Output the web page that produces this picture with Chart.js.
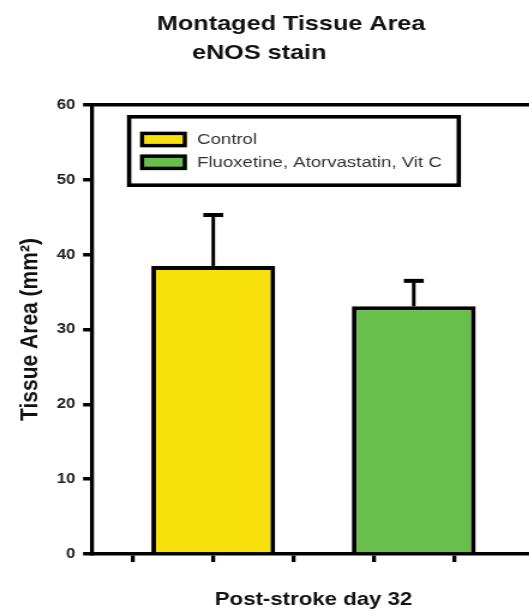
<!DOCTYPE html>
<html>
<head>
<meta charset="utf-8">
<script src="https://cdn.jsdelivr.net/npm/chart.js@4.4.1/dist/chart.umd.min.js"></script>
<style>
  html, body { margin: 0; padding: 0; background: #fff; overflow: hidden; width: 529px; height: 612px; }
  /* the figure is drawn on a narrower canvas and widened horizontally */
  #c { display: block; width: 552px !important; height: 612px !important; }
</style>
</head>
<body>
<canvas id="c" width="460" height="612" style="width:552px;height:612px"></canvas>
<script>
// ---- data ----
const titleLines = ['Montaged Tissue Area', 'eNOS stain'];
const groups = ['Post-stroke day 32'];
const seriesNames = ['Control', 'Fluoxetine, Atorvastatin, Vit C'];
const meanArea = [38.5, 33.1];   // mm^2
const errArea = [6.8, 3.4];      // upper error bar, mm^2
const yTicks = [0, 10, 20, 30, 40, 50, 60];
const xTickMarks = [0, 1, 2, 3, 4, 5];
const yTitle = 'Tissue Area (mm\u00B2)';

// ---- style ----
const FONT = '"Liberation Sans", Arial, Helvetica, sans-serif';
const seriesFill = ['#f7e00b', '#6abe4b'];

// Two-line heading above the plot
const headingPlugin = {
  id: 'heading',
  afterDraw(chart) {
    const ctx = chart.ctx;
    ctx.save();
    ctx.fillStyle = '#111';
    ctx.font = 'bold 21px ' + FONT;
    ctx.textAlign = 'left';
    ctx.textBaseline = 'alphabetic';
    ctx.fillText(titleLines[0], 130.8, 29.5);
    ctx.fillText(titleLines[1], 160, 58.5);
    ctx.restore();
  }
};

// Upper error bars with caps
const errorBarPlugin = {
  id: 'errorBars',
  afterDatasetsDraw(chart) {
    const ctx = chart.ctx;
    const yScale = chart.scales.y;
    ctx.save();
    ctx.strokeStyle = '#000';
    ctx.lineCap = 'butt';
    chart.data.datasets.forEach((ds, i) => {
      const meta = chart.getDatasetMeta(i);
      meta.data.forEach((bar, j) => {
        const yTop = yScale.getPixelForValue(ds.data[j] + ds.errors[j]);
        ctx.lineWidth = 3;
        ctx.beginPath();
        ctx.moveTo(bar.x, bar.y);
        ctx.lineTo(bar.x, yTop);
        ctx.stroke();
        ctx.lineWidth = 4;
        ctx.beginPath();
        ctx.moveTo(bar.x - 8.3, yTop);
        ctx.lineTo(bar.x + 8.3, yTop);
        ctx.stroke();
      });
    });
    ctx.restore();
  }
};

// Framed legend inside the plot area
const boxLegendPlugin = {
  id: 'boxLegend',
  afterDraw(chart) {
    const { ctx, chartArea } = chart;
    const left = chartArea.left + 29.1;
    const top = chartArea.top + 10;
    const swX = left + 10.9, swW = 39, swH = 15.6;
    const textX = left + 58.4;
    const firstRow = 24.5, rowH = 22.8, h = 72;
    ctx.save();
    ctx.font = '15.5px ' + FONT;
    const widths = chart.data.datasets.map(d => ctx.measureText(d.label).width);
    const w = textX - left + Math.max(...widths) + 16;
    ctx.fillStyle = '#fff';
    ctx.fillRect(left, top, w, h);
    ctx.strokeStyle = '#000';
    ctx.lineWidth = 3.6;
    ctx.strokeRect(left + 1.8, top + 1.8, w - 3.6, h - 3.6);
    chart.data.datasets.forEach((d, i) => {
      const cy = top + firstRow + i * rowH;
      ctx.fillStyle = d.backgroundColor;
      ctx.fillRect(swX, cy - swH / 2, swW, swH);
      ctx.lineWidth = 3.4;
      ctx.strokeRect(swX + 1.7, cy - swH / 2 + 1.7, swW - 3.4, swH - 3.4);
      ctx.fillStyle = '#333';
      ctx.textAlign = 'left';
      ctx.textBaseline = 'middle';
      ctx.fillText(d.label, textX, cy);
    });
    ctx.restore();
  }
};

new Chart(document.getElementById('c'), {
  type: 'bar',
  data: {
    labels: groups,
    datasets: seriesNames.map((name, i) => ({
      label: name,
      data: [meanArea[i]],
      errors: [errArea[i]],
      backgroundColor: seriesFill[i],
      borderColor: '#000',
      borderWidth: 4,
      borderSkipped: 'start',
      categoryPercentage: 0.9054,
      barPercentage: 0.618
    }))
  },
  options: {
    responsive: false,
    animation: false,
    layout: { padding: { top: 105, right: 14.2, bottom: 0, left: 0 } },
    plugins: {
      legend: { display: false },
      title: { display: false },
      tooltip: { enabled: false }
    },
    scales: {
      x: { display: false },
      x2: {
        type: 'linear',
        position: 'bottom',
        min: -0.5,
        max: 5,
        offset: false,
        afterBuildTicks(s) { s.ticks = xTickMarks.map(v => ({ value: v })); },
        ticks: { display: false, autoSkip: false },
        grid: { offset: false, drawOnChartArea: false, drawTicks: true, tickLength: 8, color: '#000', lineWidth: 3.3 },
        border: { display: true, color: '#000', width: 3.5 },
        title: {
          display: true,
          text: groups[0],
          color: '#111',
          font: { family: FONT, size: 18.5, weight: 'bold' },
          padding: { top: 0, bottom: 1 }
        },
        afterFit(s) { s.height = 58; }
      },
      xTop: {
        type: 'linear',
        position: 'top',
        min: 0,
        max: 1,
        offset: false,
        ticks: { display: false },
        grid: { display: false, offset: false },
        border: { display: true, color: '#000', width: 3.5 },
        afterFit(s) { s.height = 0; }
      },
      y: {
        min: 0,
        max: 60,
        afterBuildTicks(s) { s.ticks = yTicks.map(v => ({ value: v })); },
        ticks: { color: '#222', font: { family: FONT, size: 14, weight: 'bold' }, padding: 6.3 },
        grid: { drawOnChartArea: false, tickLength: 7.5, color: '#000', lineWidth: 3.5 },
        border: { color: '#000', width: 3.3 },
        title: {
          display: true,
          text: yTitle,
          color: '#111',
          font: { family: FONT, size: 21, weight: 'bold' },
          padding: { top: 12.4, bottom: 0 }
        },
        afterFit(s) { s.width = 76.7; }
      }
    }
  },
  plugins: [headingPlugin, errorBarPlugin, boxLegendPlugin]
});
</script>
</body>
</html>
